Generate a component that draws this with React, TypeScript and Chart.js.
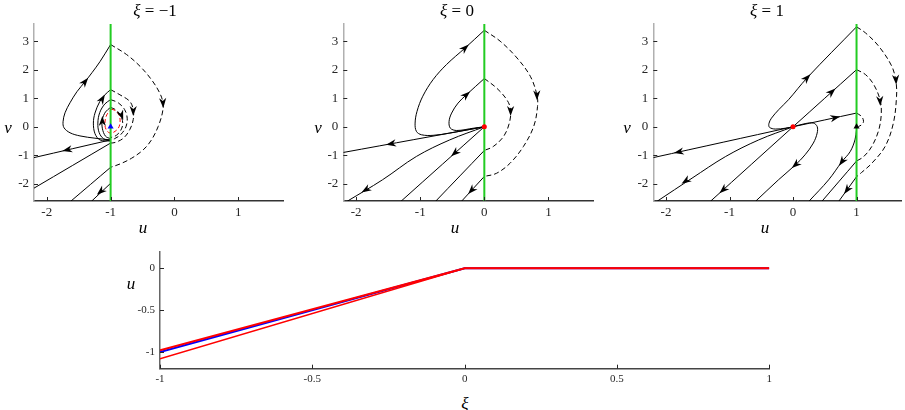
import React, { useEffect, useRef } from 'react';
import { Chart, registerables } from 'chart.js';

Chart.register(...registerables);

type Pt = [number, number];
type Arrow = [number, number, number, number]; // u, v, du, dv (direction)

// ---------------- Bottom plot data ----------------
const xiValues = [-1, 0, 1];
const uBlue = [-1, 0, 0];
const uRedUpper = [-0.98, 0, 0];
const uRedLower = [-1.08, 0, 0];
const xiTicks = [-1, -0.5, 0, 0.5, 1];
const uTicks = [-1, -0.5, 0];

// ---------------- Phase plots common ----------------
const phaseUTicks = [-2, -1, 0, 1];
const phaseVTicks = [-2, -1, 0, 1, 2, 3];

// ---------------- Phase plot xi = -1 ----------------
const p1Solid: Pt[][] = [
  [[-1, -0.46], [-2.2, -1.08]],
  [[-1, -0.57], [-2.2, -2.15]],
  [[-1, -0.46], [-1.245, -0.4], [-1.48, -0.32], [-1.636, -0.21], [-1.73, -0.035], [-1.745, 0.176], [-1.714, 0.49], [-1.636, 0.84], [-1.527, 1.23], [-1.4, 1.58], [-1.29, 1.9], [-1.167, 2.28], [-1, 2.88]],
  [[-1, -1.42], [-1.625, -2.61]],
  [[-1, -1.98], [-1.3, -2.61]],
  [[-1, -0.5], [-1.167, -0.46], [-1.245, -0.24], [-1.27, 0.13], [-1.245, 0.48], [-1.17, 0.88], [-1.09, 1.12], [-1, 1.3]],
  [[-1, -0.48], [-1.11, -0.42], [-1.18, -0.2], [-1.2, 0.13], [-1.17, 0.5], [-1.09, 0.8], [-1, 0.95]],
  [[-1, -0.42], [-1.08, -0.33], [-1.13, -0.05], [-1.13, 0.25], [-1.08, 0.52], [-1, 0.68]],
];
const p1Dashed: Pt[][] = [
  [[-1, 2.88], [-0.75, 2.53], [-0.54, 2.12], [-0.36, 1.65], [-0.23, 1.18], [-0.18, 0.83], [-0.19, 0.48], [-0.255, 0.01], [-0.36, -0.46], [-0.49, -0.81], [-0.67, -1.1], [-0.85, -1.3], [-1, -1.42]],
  [[-1, 1.3], [-0.854, 1.12], [-0.7, 0.89], [-0.646, 0.6], [-0.646, 0.25], [-0.7, -0.1], [-0.8, -0.4], [-0.93, -0.55], [-1, -0.57]],
  [[-1, 0.95], [-0.88, 0.84], [-0.78, 0.6], [-0.74, 0.3], [-0.76, 0.0], [-0.84, -0.27], [-0.94, -0.42], [-1, -0.46]],
  [[-1, 0.68], [-0.91, 0.58], [-0.84, 0.38], [-0.81, 0.12], [-0.84, -0.12], [-0.91, -0.3], [-1, -0.38]],
];
const p1RedDashed: Pt[][] = [
  [[-0.985, 0.62], [-0.906, 0.54], [-0.855, 0.31], [-0.866, 0.01], [-0.93, -0.16], [-1.01, -0.22], [-1.07, -0.1], [-1.09, 0.13], [-1.06, 0.42], [-0.985, 0.62]],
];
const p1Arrows: Arrow[] = [
  [-1.68, -0.81, -1, -0.52],
  [-1.4, 1.58, 0.24, 0.67],
  [-0.18, 0.83, 0.03, -1],
  [-1.13, 0.98, 0.08, 0.3],
  [-0.646, 0.55, 0, -1],
  [-0.83, 0.4, 0.1, -0.6],
  [-1.13, 0.2, 0, 1],
  [-1.156, -2.27, -0.32, -0.62],
];
const p1BlueTriangle: Pt[] = [[-1, 0]];

// ---------------- Phase plot xi = 0 ----------------
const p2Solid: Pt[][] = [
  [[0, 0], [-2.2, -0.9]],
  [[0, 0], [-0.54, -0.22], [-0.8, -0.3], [-0.98, -0.28], [-1.06, -0.16], [-1.08, 0.13], [-1.05, 0.54], [-0.96, 1.07], [-0.8, 1.65], [-0.59, 2.18], [-0.3, 2.76], [0, 3.38]],
  [[0, 0], [-0.17, -0.05], [-0.43, -0.13], [-0.53, -0.05], [-0.55, 0.19], [-0.51, 0.48], [-0.41, 0.83], [-0.28, 1.12], [0, 1.69]],
  [[0, 0], [-1.3, -2.61]],
  [[0, 0], [-0.54, -0.46], [-1.06, -1.04], [-1.59, -1.86], [-2.14, -2.61]],
  [[0, -0.83], [-0.76, -2.61]],
  [[0, -1.74], [-0.356, -2.61]],
];
const p2Dashed: Pt[][] = [
  [[0, 3.38], [0.246, 3.0], [0.51, 2.41], [0.717, 1.77], [0.82, 1.12], [0.83, 0.71], [0.77, 0.01], [0.61, -0.69], [0.4, -1.28], [0.19, -1.63], [0, -1.74]],
  [[0, 1.69], [0.19, 1.36], [0.35, 0.95], [0.41, 0.6], [0.39, 0.13], [0.3, -0.34], [0.14, -0.69], [0, -0.83]],
];
const p2Arrows: Arrow[] = [
  [-1.455, -0.595, -1, -0.41],
  [-0.3, 2.76, 0.59, 1.2],
  [0.82, 1.1, 0.01, -1],
  [-0.28, 1.12, 0.28, 0.57],
  [0.41, 0.55, 0, -1],
  [-0.46, -0.92, -1.3, -2.61],
  [-1.85, -2.21, -0.55, -0.75],
  [-0.2, -2.23, -0.356, -0.87],
];
const p2RedDot: Pt[] = [[0, 0]];

// ---------------- Phase plot xi = 1 ----------------
const p3Solid: Pt[][] = [
  [[0, 0], [-2.2, -1.08]],
  [[0, 0], [1, 0.48]],
  [[0, 0], [-0.12, -0.05], [-0.28, -0.08], [-0.37, -0.02], [-0.38, 0.11], [-0.34, 0.3], [-0.225, 0.6], [-0.07, 0.95], [0.22, 1.71], [1, 3.5]],
  [[-1.3, -2.61], [0, 0], [1, 2.0]],
  [[0, 0], [-0.54, -0.46], [-1.06, -1.04], [-1.59, -1.8], [-2.14, -2.61]],
  [[0, 0], [0.19, 0.11], [0.32, 0.13], [0.38, 0.01], [0.38, -0.22], [0.32, -0.57], [0.19, -0.98], [0.04, -1.33], [-0.23, -1.86], [-0.59, -2.61]],
  [[1, -0.1], [0.975, -0.46], [0.9, -0.87], [0.77, -1.22], [0.56, -1.86], [0.25, -2.61]],
  [[1, -1.2], [0.455, -2.61]],
  [[1, -1.75], [0.72, -2.61]],
];
const p3Dashed: Pt[][] = [
  [[1, 3.5], [1.14, 3.29], [1.35, 2.82], [1.555, 2.12], [1.62, 1.59], [1.63, 1.07], [1.58, 0.13], [1.45, -0.69], [1.24, -1.28], [1.08, -1.6], [1, -1.75]],
  [[1, 2.0], [1.14, 1.83], [1.27, 1.48], [1.37, 0.95], [1.39, 0.48], [1.35, -0.11], [1.24, -0.69], [1.11, -1.05], [1, -1.2]],
  [[1, 0.48], [1.08, 0.36], [1.11, 0.19], [1.08, 0.07], [1.03, 0.01]],
];
const p3Arrows: Arrow[] = [
  [-1.8, -0.884, -2.2, -1.08],
  [0.665, 0.32, 1, 0.48],
  [0.22, 1.71, 0.78, 1.79],
  [0.61, 1.22, 1, 2],
  [1.62, 1.65, 0.03, -1],
  [1.37, 0.9, 0.03, -1],
  [-1.1, -2.21, -1.3, -2.61],
  [-1.69, -1.9, -0.55, -0.8],
  [0.04, -1.33, -0.27, -0.53],
  [0.77, -1.22, -0.21, -0.64],
  [0.85, -2.21, -0.28, -0.86],
];
const p3RedDot: Pt[] = [[0, 0]];
const p3BlackTriangle: Pt[] = [[1, 0]];

// ---------------- styling ----------------
const SERIF = '"Liberation Serif", "DejaVu Serif", "Times New Roman", serif';
const GREEN = '#22cc22';
const TEXT = '#262626';
const V_MIN = -2.6;
const V_MAX = 3.6;
const U_MIN = -2.2;
const U_MAX = 1.7;

const toXY = (pts: Pt[]) => pts.map(([x, y]) => ({ x, y }));

function arrowPlugin(items: Arrow[], color: string) {
  return {
    id: 'arrowHeads',
    afterDatasetsDraw(chart: any) {
      const { ctx, scales } = chart;
      const sx = scales.x;
      const sy = scales.y;
      ctx.save();
      ctx.fillStyle = color;
      for (const [u, v, du, dv] of items) {
        const px = sx.getPixelForValue(u);
        const py = sy.getPixelForValue(v);
        const qx = sx.getPixelForValue(u + du);
        const qy = sy.getPixelForValue(v + dv);
        const a = Math.atan2(qy - py, qx - px);
        const L = 10, W = 3.6, N = 7;
        const c = Math.cos(a), s = Math.sin(a);
        const tx = px + c * L * 0.5, ty = py + s * L * 0.5;
        const bx = tx - c * L, by = ty - s * L;
        const nx = -s, ny = c;
        ctx.beginPath();
        ctx.moveTo(tx, ty);
        ctx.lineTo(bx + nx * W, by + ny * W);
        ctx.lineTo(tx - c * N, ty - s * N);
        ctx.lineTo(bx - nx * W, by - ny * W);
        ctx.closePath();
        ctx.fill();
      }
      ctx.restore();
    },
  };
}

const innerTicks = {
  id: 'innerTicks',
  afterDraw(chart: any) {
    const { ctx, chartArea, scales } = chart;
    ctx.save();
    ctx.strokeStyle = TEXT;
    ctx.lineWidth = 1;
    for (const t of scales.x.ticks) {
      const px = Math.round(scales.x.getPixelForValue(t.value)) + 0.5;
      ctx.beginPath();
      ctx.moveTo(px, chartArea.bottom);
      ctx.lineTo(px, chartArea.bottom - 4);
      ctx.stroke();
    }
    for (const t of scales.y.ticks) {
      const py = Math.round(scales.y.getPixelForValue(t.value)) + 0.5;
      ctx.beginPath();
      ctx.moveTo(chartArea.left, py);
      ctx.lineTo(chartArea.left + 4, py);
      ctx.stroke();
    }
    ctx.restore();
  },
};

function axisOpts(opts: {
  min: number; max: number; ticks: number[]; size: number; fontSize: number;
  padding: number; borderColor: string; horizontal: boolean;
}) {
  return {
    type: 'linear',
    position: opts.horizontal ? 'bottom' : 'left',
    min: opts.min,
    max: opts.max,
    grid: { display: true, drawOnChartArea: false, drawTicks: false },
    border: { display: true, color: opts.borderColor, width: 1.5 },
    ticks: {
      color: TEXT,
      padding: opts.padding,
      font: { family: SERIF, size: opts.fontSize },
      autoSkip: false,
      maxRotation: 0,
      callback: (v: number) => String(v),
    },
    afterBuildTicks: (s: any) => {
      s.ticks = opts.ticks.map((value) => ({ value }));
    },
    afterFit: (s: any) => {
      if (opts.horizontal) s.height = opts.size;
      else s.width = opts.size;
    },
  };
}

function lineSet(pts: Pt[], color: string, width: number, dash: number[], order: number) {
  return {
    data: toXY(pts),
    showLine: true,
    borderColor: color,
    borderWidth: width,
    borderDash: dash,
    pointRadius: 0,
    tension: 0.35,
    order,
  };
}

function phaseConfig(p: {
  xi: number; solid: Pt[][]; dashed: Pt[][]; red?: Pt[][]; arrows: Arrow[];
  markers: { pts: Pt[]; style: string; color: string; r: number }[];
  yWidth: number; padRight: number;
}) {
  const datasets: any[] = [];
  p.markers.forEach((m) =>
    datasets.push({
      data: toXY(m.pts),
      showLine: false,
      pointStyle: m.style,
      pointRadius: m.r,
      pointBackgroundColor: m.color,
      pointBorderColor: m.color,
      pointBorderWidth: 0,
      order: 0,
    })
  );
  datasets.push({
    data: [{ x: p.xi, y: V_MIN }, { x: p.xi, y: V_MAX }],
    showLine: true,
    borderColor: GREEN,
    borderWidth: 2,
    pointRadius: 0,
    tension: 0,
    order: 1,
  });
  (p.red || []).forEach((pts) => datasets.push(lineSet(pts, '#ff0000', 1, [4, 2.5], 2)));
  p.solid.forEach((pts) => datasets.push(lineSet(pts, '#000000', 1, [], 3)));
  p.dashed.forEach((pts) => datasets.push(lineSet(pts, '#000000', 1, [5, 3], 3)));
  return {
    type: 'scatter',
    data: { datasets },
    options: {
      animation: false,
      responsive: false,
      devicePixelRatio: 1,
      events: [],
      layout: { padding: { top: 24, right: p.padRight, left: 0, bottom: 0 } },
      plugins: { legend: { display: false }, tooltip: { enabled: false }, title: { display: false } },
      scales: {
        x: axisOpts({ min: U_MIN, max: U_MAX, ticks: phaseUTicks, size: 21, fontSize: 13, padding: 4, borderColor: '#333333', horizontal: true }),
        y: axisOpts({ min: V_MIN, max: V_MAX, ticks: phaseVTicks, size: p.yWidth, fontSize: 13, padding: 5, borderColor: '#b0b0b0', horizontal: false }),
      },
    },
    plugins: [innerTicks, arrowPlugin(p.arrows, '#000000')],
  };
}

function bottomConfig() {
  const mk = (ys: number[]) => xiValues.map((x, i) => ({ x, y: ys[i] }));
  return {
    type: 'scatter',
    data: {
      datasets: [
        { data: mk(uRedUpper), showLine: true, borderColor: '#ff0000', borderWidth: 2, pointRadius: 0, tension: 0, order: 0 },
        { data: mk(uRedLower), showLine: true, borderColor: '#ff0000', borderWidth: 1.5, pointRadius: 0, tension: 0, order: 0 },
        { data: mk(uBlue), showLine: true, borderColor: '#0000ff', borderWidth: 2, pointRadius: 0, tension: 0, order: 1 },
      ],
    },
    options: {
      animation: false,
      responsive: false,
      devicePixelRatio: 1,
      events: [],
      layout: { padding: { top: 7.3, right: 10.7, left: 0, bottom: 0 } },
      plugins: { legend: { display: false }, tooltip: { enabled: false } },
      scales: {
        x: axisOpts({ min: -1, max: 1, ticks: xiTicks, size: 21.3, fontSize: 11, padding: 4, borderColor: '#444444', horizontal: true }),
        y: axisOpts({ min: -1.2, max: 0.2, ticks: uTicks, size: 60, fontSize: 11, padding: 5, borderColor: '#666666', horizontal: false }),
      },
    },
    plugins: [innerTicks],
  };
}

function ChartCanvas({ left, top, width, height, make }: { left: number; top: number; width: number; height: number; make: () => any }) {
  const ref = useRef<HTMLCanvasElement | null>(null);
  useEffect(() => {
    if (!ref.current) return;
    const chart = new Chart(ref.current, make());
    return () => chart.destroy();
  }, []);
  return (
    <canvas
      ref={ref}
      width={width}
      height={height}
      style={{ position: 'absolute', left, top, width, height }}
    />
  );
}

function Label({ x, y, size, children }: { x: number; y: number; size: number; children: any }) {
  return (
    <div
      style={{
        position: 'absolute',
        left: x,
        top: y,
        transform: 'translate(-50%, -50%)',
        fontFamily: SERIF,
        fontSize: size,
        lineHeight: 1,
        whiteSpace: 'nowrap',
        color: '#000',
      }}
    >
      {children}
    </div>
  );
}

export default function App() {
  return (
    <div style={{ position: 'fixed', left: 0, top: 0, width: 905, height: 410, background: '#fff', overflow: 'hidden' }}>
      <ChartCanvas
        left={0} top={0} width={290} height={222}
        make={() => phaseConfig({
          xi: -1, solid: p1Solid, dashed: p1Dashed, red: p1RedDashed, arrows: p1Arrows,
          markers: [{ pts: p1BlueTriangle, style: 'triangle', color: '#0000ff', r: 3.5 }],
          yWidth: 34, padRight: 7,
        })}
      />
      <ChartCanvas
        left={300} top={0} width={300} height={222}
        make={() => phaseConfig({
          xi: 0, solid: p2Solid, dashed: p2Dashed, arrows: p2Arrows,
          markers: [{ pts: p2RedDot, style: 'circle', color: '#ff0000', r: 2.5 }],
          yWidth: 43.3, padRight: 6.7,
        })}
      />
      <ChartCanvas
        left={610} top={0} width={295} height={222}
        make={() => phaseConfig({
          xi: 1, solid: p3Solid, dashed: p3Dashed, arrows: p3Arrows,
          markers: [
            { pts: p3RedDot, style: 'circle', color: '#ff0000', r: 2.5 },
            { pts: p3BlackTriangle, style: 'triangle', color: '#000000', r: 3.5 },
          ],
          yWidth: 43.3, padRight: 1.7,
        })}
      />
      <ChartCanvas left={100} top={240} width={680} height={150} make={bottomConfig} />

      <Label x={155} y={10} size={17}><i>ξ</i> = −1</Label>
      <Label x={457} y={10} size={17}><i>ξ</i> = 0</Label>
      <Label x={767} y={10} size={17}><i>ξ</i> = 1</Label>

      <Label x={8} y={127} size={17}><i>v</i></Label>
      <Label x={318} y={127} size={17}><i>v</i></Label>
      <Label x={627} y={127} size={17}><i>v</i></Label>

      <Label x={143} y={227} size={17}><i>u</i></Label>
      <Label x={455} y={227} size={17}><i>u</i></Label>
      <Label x={765} y={227} size={17}><i>u</i></Label>

      <Label x={131} y={283} size={17}><i>u</i></Label>
      <Label x={465} y={403} size={17}><i>ξ</i></Label>
    </div>
  );
}
